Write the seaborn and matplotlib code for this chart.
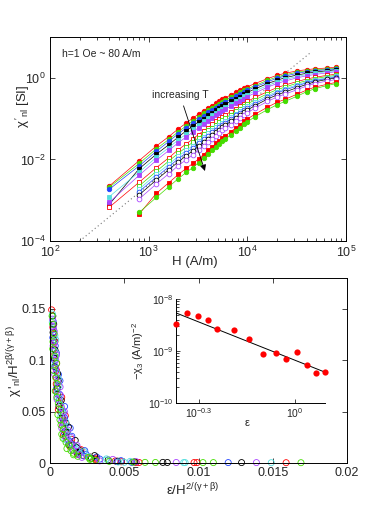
import numpy as np
import matplotlib
matplotlib.use("Agg")
import matplotlib.pyplot as plt
import matplotlib.ticker as mticker
import seaborn as sns

# ---- top panel: chi'_nl vs H, one curve per temperature (lowest T first) ----
H = [400, 800, 1200, 1600, 2000, 2400, 2800, 3200, 3600, 4000,
     4400, 4800, 5200, 5600, 6000, 6800, 7600, 8400, 9200, 10000,
     12000, 16000, 20000, 24000, 32000, 40000, 48000, 64000, 80000]

# log10 of chi'_nl [SI]; curves without a 400 A/m point start at 800 A/m
c1 = [-2.65, -2.03, -1.67, -1.44, -1.25, -1.11, -0.99, -0.89, -0.81, -0.74, -0.68, -0.62, -0.57, -0.53, -0.49,
      -0.42, -0.36, -0.31, -0.26, -0.22, -0.14, -0.02, 0.06, 0.11, 0.17, 0.20, 0.22, 0.24, 0.26]
c2 = [-2.68, -2.10, -1.74, -1.51, -1.32, -1.18, -1.06, -0.96, -0.87, -0.80, -0.74, -0.68, -0.63, -0.59, -0.55,
      -0.47, -0.41, -0.36, -0.31, -0.27, -0.19, -0.06, 0.02, 0.07, 0.14, 0.17, 0.19, 0.22, 0.24]
c3 = [-2.73, -2.16, -1.80, -1.56, -1.37, -1.23, -1.11, -1.01, -0.93, -0.85, -0.79, -0.73, -0.68, -0.63, -0.59,
      -0.52, -0.45, -0.40, -0.35, -0.31, -0.22, -0.10, -0.01, 0.04, 0.11, 0.15, 0.17, 0.20, 0.22]
c4 = [-3.10, -2.23, -1.87, -1.64, -1.45, -1.30, -1.18, -1.08, -1.00, -0.92, -0.86, -0.79, -0.74, -0.70, -0.65,
      -0.58, -0.51, -0.46, -0.40, -0.36, -0.27, -0.14, -0.06, 0.00, 0.07, 0.11, 0.14, 0.17, 0.20]
c5 = [-2.91, -2.31, -1.95, -1.71, -1.52, -1.38, -1.26, -1.15, -1.07, -0.99, -0.92, -0.86, -0.80, -0.76, -0.71,
      -0.64, -0.57, -0.51, -0.45, -0.41, -0.32, -0.19, -0.10, -0.04, 0.03, 0.08, 0.11, 0.15, 0.17]
c6 = [-3.05, -2.39, -2.02, -1.78, -1.59, -1.45, -1.33, -1.22, -1.14, -1.06, -0.99, -0.92, -0.87, -0.82, -0.77,
      -0.69, -0.62, -0.57, -0.51, -0.46, -0.37, -0.23, -0.14, -0.08, 0.00, 0.05, 0.08, 0.12, 0.15]
c7 = [-3.17, -2.56, -2.20, -1.96, -1.76, -1.62, -1.50, -1.39, -1.30, -1.22, -1.14, -1.07, -1.02, -0.96, -0.91,
      -0.83, -0.76, -0.69, -0.63, -0.58, -0.48, -0.34, -0.24, -0.18, -0.09, -0.03, 0.01, 0.06, 0.09]
c8 = [-2.65, -2.29, -2.04, -1.85, -1.70, -1.58, -1.47, -1.38, -1.29, -1.22, -1.15, -1.09, -1.04, -0.99,
      -0.90, -0.82, -0.76, -0.69, -0.64, -0.54, -0.39, -0.29, -0.23, -0.13, -0.07, -0.02, 0.03, 0.06]
c9 = [-2.73, -2.36, -2.12, -1.92, -1.78, -1.66, -1.55, -1.45, -1.36, -1.29, -1.21, -1.15, -1.10, -1.05,
      -0.96, -0.88, -0.81, -0.74, -0.69, -0.59, -0.44, -0.34, -0.27, -0.17, -0.10, -0.05, 0.00, 0.04]
c10 = [-2.79, -2.43, -2.18, -1.98, -1.84, -1.72, -1.60, -1.51, -1.42, -1.34, -1.27, -1.21, -1.15, -1.10,
       -1.01, -0.92, -0.86, -0.79, -0.74, -0.63, -0.48, -0.37, -0.30, -0.20, -0.12, -0.07, -0.02, 0.02]
c11 = [-2.87, -2.50, -2.25, -2.06, -1.91, -1.79, -1.68, -1.58, -1.49, -1.41, -1.33, -1.27, -1.21, -1.16,
       -1.07, -0.98, -0.91, -0.84, -0.79, -0.68, -0.52, -0.42, -0.35, -0.24, -0.16, -0.10, -0.04, 0.00]
c12 = [-2.97, -2.60, -2.35, -2.15, -2.01, -1.89, -1.77, -1.67, -1.58, -1.49, -1.42, -1.35, -1.29, -1.24,
       -1.15, -1.06, -0.98, -0.91, -0.86, -0.74, -0.58, -0.47, -0.40, -0.29, -0.20, -0.14, -0.08, -0.04]
c13 = [-3.34, -2.83, -2.57, -2.37, -2.22, -2.10, -1.99, -1.88, -1.78, -1.69, -1.61, -1.55, -1.48, -1.42,
       -1.32, -1.23, -1.15, -1.07, -1.01, -0.89, -0.72, -0.60, -0.53, -0.40, -0.30, -0.23, -0.16, -0.11]
c14 = [-3.30, -2.93, -2.67, -2.47, -2.32, -2.20, -2.08, -1.97, -1.87, -1.78, -1.70, -1.63, -1.56, -1.50,
       -1.40, -1.30, -1.22, -1.14, -1.08, -0.95, -0.78, -0.66, -0.58, -0.45, -0.34, -0.27, -0.19, -0.14]

RED, GREEN, BLUE, BLACK, CYAN, MAGENTA = '#ff0000', '#44dd00', '#2244ff', '#000000', '#55dede', '#aa44ff'

# (data, colour, marker, filled)
curves = [
    (c1, RED, 'o', True), (c2, GREEN, 'o', True), (c3, BLUE, 'o', True),
    (c4, BLACK, 's', True), (c5, CYAN, 's', True), (c6, MAGENTA, 's', True),
    (c7, RED, 's', False), (c8, GREEN, 's', False), (c9, CYAN, 's', False),
    (c10, BLUE, 'o', False), (c11, BLACK, 'o', False), (c12, MAGENTA, 'o', False),
    (c13, RED, 's', True), (c14, GREEN, 'o', True),
]

# H^2 guide line
guide_H = [200, 44000]
guide_chi = [1e-4, 4.2]

# ---- bottom panel: scaled data (explicit points per colour) ----
red_x = [0.00011, 0.00019, 0.00033, 0.00024, 0.00044, 0.00042, 0.00079, 0.00056, 0.00095, 0.00103, 0.00146,
         0.00135, 0.00196, 0.0022, 0.0031, 0.0031, 0.0044, 0.0048, 0.0058, 0.0060, 0.0097, 0.0099, 0.0159,
         0.00027, 0.000258, 0.000446, 0.000437, 0.00041, 0.00071, 0.00103, 0.00085, 0.00091, 0.00147,
         0.00209, 0.00183, 0.00268, 0.00303]
red_y = [0.149, 0.132, 0.118, 0.104, 0.090, 0.077, 0.064, 0.052, 0.041, 0.031, 0.023,
         0.016, 0.011, 0.0075, 0.0050, 0.0032, 0.0020, 0.0012, 0.0006, 0.0005, 0.0004, 0.0004, 0.0003,
         0.125, 0.111, 0.097, 0.083, 0.070, 0.058, 0.046, 0.036, 0.027, 0.019,
         0.013, 0.009, 0.006, 0.004]
green_x = [0.00014, 0.00027, 0.000185, 0.00045, 0.000385, 0.00035, 0.00056, 0.00053, 0.00074, 0.00079, 0.00108,
           0.00114, 0.0016, 0.00187, 0.00272, 0.00307, 0.00399, 0.0056, 0.0064, 0.0071, 0.0103, 0.0110, 0.0169,
           0.00018, 0.0002, 0.000324, 0.000248, 0.00048, 0.00046, 0.00071, 0.00067, 0.0009, 0.00088,
           0.0013, 0.00141, 0.00158, 0.00258, 0.00269]
green_y = [0.143, 0.126, 0.111, 0.097, 0.083, 0.070, 0.058, 0.047, 0.037, 0.028, 0.020,
           0.014, 0.0095, 0.0065, 0.0042, 0.0026, 0.0016, 0.0009, 0.0006, 0.0005, 0.0004, 0.0004, 0.0003,
           0.135, 0.118, 0.104, 0.090, 0.077, 0.064, 0.052, 0.042, 0.033, 0.024,
           0.017, 0.012, 0.008, 0.0055, 0.0035]
blue_x = [0.00021, 0.00019, 0.00043, 0.00038, 0.00067, 0.00063, 0.00098, 0.00098, 0.00136, 0.00147, 0.00152,
          0.00234, 0.00243, 0.00314, 0.00335, 0.00478, 0.0045, 0.0055, 0.0120,
          0.000224, 0.000352, 0.0003, 0.00057, 0.00045, 0.00062, 0.00089, 0.00089, 0.00095, 0.00126,
          0.00179, 0.00205, 0.00226]
blue_y = [0.138, 0.122, 0.107, 0.093, 0.080, 0.067, 0.055, 0.044, 0.034, 0.026, 0.018,
          0.012, 0.0085, 0.0058, 0.0038, 0.0023, 0.0014, 0.0006, 0.0004,
          0.130, 0.114, 0.100, 0.086, 0.073, 0.061, 0.049, 0.039, 0.030, 0.022,
          0.015, 0.010, 0.007]
black_x = [0.00025, 0.00026, 0.00029, 0.00051, 0.00051, 0.00076, 0.00074, 0.00107, 0.00115, 0.0017, 0.00179,
           0.00184, 0.0030, 0.00279, 0.00392, 0.00455, 0.0057, 0.0076, 0.0079, 0.0129,
           0.00019, 0.000206, 0.000335, 0.000326, 0.00056, 0.0005, 0.0006, 0.00082, 0.00124, 0.00105,
           0.00127, 0.00203, 0.00189]
black_y = [0.135, 0.120, 0.102, 0.087, 0.073, 0.061, 0.049, 0.039, 0.030, 0.022, 0.015,
           0.0105, 0.0072, 0.0047, 0.0030, 0.0018, 0.0011, 0.0006, 0.0005, 0.0004,
           0.143, 0.127, 0.110, 0.094, 0.080, 0.067, 0.055, 0.044, 0.035, 0.026,
           0.018, 0.012, 0.0085]
magenta_x = [0.00017, 0.00029, 0.00021, 0.000385, 0.00032, 0.00068, 0.00047, 0.00097, 0.00078, 0.00121, 0.0011,
             0.00182, 0.00157, 0.00195, 0.00215, 0.00423, 0.00334, 0.0058, 0.0085, 0.0139,
             0.000213, 0.0003, 0.00044, 0.00038, 0.00052, 0.0007, 0.00077, 0.00092, 0.00079, 0.0014,
             0.00139, 0.00153]
magenta_y = [0.140, 0.128, 0.114, 0.100, 0.086, 0.074, 0.062, 0.050, 0.040, 0.032, 0.024,
             0.017, 0.012, 0.0080, 0.0055, 0.0035, 0.0021, 0.0013, 0.0005, 0.0004,
             0.133, 0.117, 0.105, 0.092, 0.079, 0.066, 0.054, 0.043, 0.034, 0.025,
             0.018, 0.0125]
cyan_x = [0.00016, 0.00033, 0.0003, 0.00032, 0.00055, 0.00049, 0.00074, 0.00072, 0.00094, 0.00122, 0.00135,
          0.00179, 0.00201, 0.00263, 0.0038, 0.00372, 0.0054, 0.0046, 0.0050, 0.0090, 0.0091, 0.0149,
          0.000155, 0.000386, 0.00037, 0.00045, 0.0006, 0.00061, 0.00081, 0.00105, 0.00113, 0.00101,
          0.00161, 0.00229]
cyan_y = [0.145, 0.124, 0.109, 0.095, 0.082, 0.068, 0.056, 0.045, 0.036, 0.027, 0.019,
          0.013, 0.0090, 0.0062, 0.0040, 0.0025, 0.0016, 0.0010, 0.0007, 0.0004, 0.0004, 0.0003,
          0.137, 0.120, 0.103, 0.088, 0.075, 0.062, 0.050, 0.040, 0.031, 0.023,
          0.016, 0.011]

scaled = [(red_x, red_y, RED), (blue_x, blue_y, BLUE), (black_x, black_y, BLACK),
          (cyan_x, cyan_y, CYAN), (magenta_x, magenta_y, MAGENTA), (green_x, green_y, GREEN)]

# ---- inset: -chi_3 vs reduced temperature ----
eps = [0.424, 0.459, 0.498, 0.535, 0.570, 0.646, 0.719, 0.796, 0.871, 0.942, 1.019, 1.096, 1.17, 1.247]
log_chi3 = [-8.49, -8.27, -8.32, -8.41, -8.57, -8.59, -8.76, -9.06, -9.04, -9.16, -9.02, -9.26, -9.42, -9.41]
fit_eps = [0.424, 1.247]
fit_chi3 = [5.4e-9, 3.9e-10]

sns.set_style("ticks")
plt.rcParams['font.family'] = ['Liberation Sans', 'DejaVu Sans']
plt.rcParams['mathtext.fontset'] = 'custom'
plt.rcParams['mathtext.rm'] = 'Liberation Sans'
plt.rcParams['mathtext.it'] = 'Liberation Sans:italic'
plt.rcParams['mathtext.bf'] = 'Liberation Sans:bold'
plt.rcParams['xtick.direction'] = 'in'
plt.rcParams['ytick.direction'] = 'in'
plt.rcParams['axes.linewidth'] = 0.7
plt.rcParams['axes.edgecolor'] = 'black'

fig = plt.figure(figsize=(3.82, 5.09), dpi=100)
W, Hf = 382.0, 509.0
ax1 = fig.add_axes([50 / W, 1 - 241 / Hf, 296 / W, 204 / Hf])
ax2 = fig.add_axes([50 / W, 1 - 463 / Hf, 297 / W, 185 / Hf])
ax3 = fig.add_axes([176 / W, 1 - 403 / Hf, 149 / W, 104 / Hf])

# top panel
ax1.set_xscale('log')
ax1.set_yscale('log')
sns.lineplot(x=guide_H, y=guide_chi, ax=ax1, color='#777777', linestyle=(0, (1, 2.5)), linewidth=0.8)
for vals, col, mk, filled in curves:
    hh = H[len(H) - len(vals):]
    sns.lineplot(x=hh, y=10 ** np.array(vals), ax=ax1, color=col, linewidth=0.5,
                 marker=mk, markersize=3.2 if filled else 3.4,
                 mfc=col if filled else 'white', mec=col, mew=0.6)
ax1.set_xlim(1e2, 1e5)
ax1.set_ylim(1e-4, 1e1)
ax1.yaxis.set_major_locator(mticker.FixedLocator([1e-4, 1e-2, 1e0]))
ax1.yaxis.set_minor_locator(mticker.NullLocator())
ax1.xaxis.set_major_locator(mticker.LogLocator(base=10, numticks=10))
ax1.xaxis.set_minor_locator(mticker.LogLocator(base=10, subs=np.arange(2, 10), numticks=10))
ax1.tick_params(which='both', top=True, right=True, labelsize=9, length=3.5, width=0.6, pad=3)
ax1.tick_params(which='minor', length=2)
ax1.set_xlabel('H (A/m)', fontsize=9.5)
ax1.xaxis.set_label_coords(0.49, -0.075)
ax1.set_ylabel(r"$\mathrm{\chi\,}'_{\mathrm{nl}}$ [SI]", fontsize=9.5)
ax1.yaxis.set_label_coords(-0.06, 0.66)
ax1.text(0.04, 0.915, 'h=1 Oe ~ 80 A/m', transform=ax1.transAxes, fontsize=7.5, va='center')
ax1.annotate('increasing T', xy=(3720, 5.2e-3), xytext=(2075, 0.38), fontsize=7.5,
             ha='center', va='center',
             arrowprops=dict(arrowstyle='-|>', color='black', lw=0.6, mutation_scale=9, shrinkA=2, shrinkB=0))

# bottom panel
for xs, ys, col in scaled:
    sns.scatterplot(x=xs, y=ys, ax=ax2, marker='o', s=19, facecolor='none', edgecolor=col,
                    linewidth=0.6, clip_on=False, legend=False)
ax2.set_xlim(0, 0.02)
ax2.set_ylim(0, 0.18)
ax2.set_xticks([0, 0.005, 0.01, 0.015, 0.02])
ax2.set_xticklabels(['0', '0.005', '0.01', '0.015', '0.02'])
ax2.set_yticks([0, 0.05, 0.1, 0.15])
ax2.set_yticklabels(['0', '0.05', '0.1', '0.15'])
ax2.tick_params(top=True, right=True, labelsize=9, length=3.5, width=0.6, pad=3)
ax2.set_xlabel(r"$\mathrm{\varepsilon/H^{2/(\gamma+\beta)}}$", fontsize=9.5)
ax2.xaxis.set_label_coords(0.48, -0.1)
ax2.set_ylabel(r"$\mathrm{\chi\,'_{nl}/H^{2\beta/(\gamma+\beta)}}$", fontsize=9.5)
ax2.yaxis.set_label_coords(-0.085, 0.55)

# inset
ax3.set_xscale('log')
ax3.set_yscale('log')
ax3.patch.set_alpha(0)
sns.lineplot(x=fit_eps, y=fit_chi3, ax=ax3, color='black', linewidth=0.7)
sns.scatterplot(x=eps, y=10 ** np.array(log_chi3), ax=ax3, color=RED, edgecolor=RED,
                s=20, linewidth=0, clip_on=False, zorder=3, legend=False)
ax3.set_xlim(0.424, 1.245)
ax3.set_ylim(1e-10, 1e-8)
ax3.xaxis.set_major_locator(mticker.FixedLocator([10 ** -0.3, 1.0]))
ax3.xaxis.set_major_formatter(mticker.FixedFormatter([r'$10^{-0.3}$', r'$10^{0}$']))
ax3.xaxis.set_minor_locator(mticker.NullLocator())
ax3.yaxis.set_major_locator(mticker.FixedLocator([1e-10, 1e-9, 1e-8]))
ax3.spines['top'].set_visible(False)
ax3.spines['right'].set_visible(False)
ax3.tick_params(which='both', top=False, right=False, labelsize=7.5, length=3, width=0.6, pad=2)
ax3.tick_params(which='minor', length=1.8)
ax3.set_xlabel(r'$\mathrm{\varepsilon}$', fontsize=8)
ax3.xaxis.set_label_coords(0.48, -0.14)
ax3.set_ylabel(r'$\mathrm{-\chi_3}$ (A/m)$^{-2}$', fontsize=8)
ax3.yaxis.set_label_coords(-0.2, 0.5)

fig.savefig('out.png', dpi=100)
